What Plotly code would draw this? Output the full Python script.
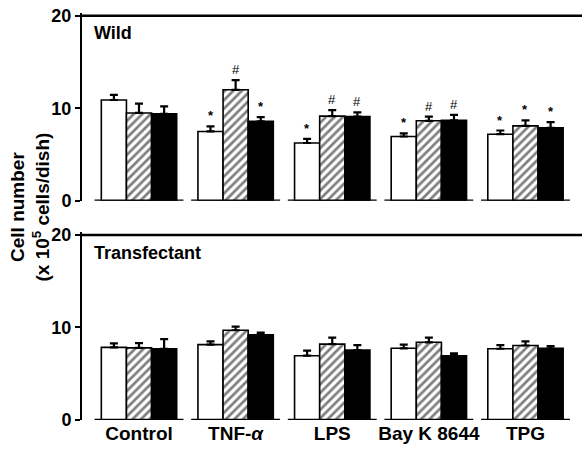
import plotly.graph_objects as go
from plotly.subplots import make_subplots

categories = ["Control", "TNF-<i>α</i>", "LPS", "Bay K 8644", "TPG"]

# Wild
wild_white = [10.9, 7.5, 6.25, 6.95, 7.2]
wild_white_err = [0.55, 0.55, 0.45, 0.35, 0.4]
wild_hatch = [9.5, 12.0, 9.15, 8.65, 8.1]
wild_hatch_err = [1.0, 1.05, 0.65, 0.45, 0.6]
wild_black = [9.4, 8.6, 9.1, 8.7, 7.9]
wild_black_err = [0.8, 0.45, 0.45, 0.6, 0.6]
wild_white_mark = ["", "*", "*", "*", "*"]
wild_hatch_mark = ["", "#", "#", "#", "*"]
wild_black_mark = ["", "*", "#", "#", "*"]

# Transfectant
tr_white = [7.85, 8.15, 6.95, 7.75, 7.7]
tr_white_err = [0.43, 0.35, 0.55, 0.4, 0.4]
tr_hatch = [7.8, 9.7, 8.2, 8.4, 8.05]
tr_hatch_err = [0.5, 0.4, 0.7, 0.5, 0.45]
tr_black = [7.7, 9.2, 7.55, 6.95, 7.75]
tr_black_err = [1.05, 0.25, 0.55, 0.25, 0.25]

y_ticks = [0, 10, 20]
panel_labels = ["Wild", "Transfectant"]

FONT = "Arial, Liberation Sans, sans-serif"

fig = make_subplots(rows=2, cols=1, shared_xaxes=False, vertical_spacing=0.077)

xs = list(range(len(categories)))


def add_bar(vals, errs, style, row):
    if style == "white":
        marker = dict(color="white", line=dict(color="black", width=1.6))
    elif style == "hatch":
        marker = dict(color="white", line=dict(color="black", width=1.6),
                      pattern=dict(shape="/", fgcolor="black", bgcolor="white",
                                   size=6, solidity=0.45))
    else:
        marker = dict(color="black", line=dict(color="black", width=1.6))
    fig.add_trace(go.Bar(
        x=xs, y=vals, marker=marker, showlegend=False,
        error_y=dict(type="data", symmetric=False, array=errs,
                     arrayminus=[0] * len(errs), color="black",
                     thickness=2.2, width=4),
    ), row=row, col=1)


add_bar(wild_white, wild_white_err, "white", 1)
add_bar(wild_hatch, wild_hatch_err, "hatch", 1)
add_bar(wild_black, wild_black_err, "black", 1)
add_bar(tr_white, tr_white_err, "white", 2)
add_bar(tr_hatch, tr_hatch_err, "hatch", 2)
add_bar(tr_black, tr_black_err, "black", 2)

fig.update_layout(barmode="group", bargap=0.22, bargroupgap=0)

bar_w = 0.78 / 3
for vals, errs, marks, k in [
    (wild_white, wild_white_err, wild_white_mark, -1),
    (wild_hatch, wild_hatch_err, wild_hatch_mark, 0),
    (wild_black, wild_black_err, wild_black_mark, 1),
]:
    for i, m in enumerate(marks):
        if m:
            fig.add_annotation(x=i + k * bar_w, y=vals[i] + errs[i], xref="x", yref="y",
                               text="<b>%s</b>" % m if m == "*" else m,
                               showarrow=False, yanchor="bottom", yshift=1,
                               font=dict(family=FONT, size=13, color="black"))

for r, (xr, yr) in enumerate([("x", "y"), ("x2", "y2")]):
    # segmented baselines
    for i in xs:
        fig.add_shape(type="line", xref=xr, yref=yr, x0=i - 0.46, x1=i + 0.46,
                      y0=0, y1=0, line=dict(color="black", width=2.5))
    # top frame line
    fig.add_shape(type="line", xref=xr + " domain", yref=yr, x0=0, x1=1,
                  y0=y_ticks[-1], y1=y_ticks[-1], line=dict(color="black", width=2.5))
    fig.add_annotation(x=0.02, xref=xr + " domain", y=1 - 0.045, yref=yr + " domain",
                       text="<b>%s</b>" % panel_labels[r], showarrow=False,
                       xanchor="left", yanchor="top",
                       font=dict(family=FONT, size=18, color="black"))

xrange = [-0.59, 4.585]
fig.update_xaxes(range=xrange, showline=False, showgrid=False, zeroline=False,
                 tickvals=xs, showticklabels=False, ticks="", row=1, col=1)
fig.update_xaxes(range=xrange, showline=False, showgrid=False, zeroline=False,
                 tickvals=xs, ticktext=["<b>%s</b>" % c for c in categories], ticks="",
                 tickfont=dict(family=FONT, size=19, color="black"), row=2, col=1)
fig.update_yaxes(range=[0, 20.3], tickvals=y_ticks,
                 ticktext=["<b>%d</b>" % v for v in y_ticks],
                 showline=True, linecolor="black", linewidth=2, ticks="outside",
                 ticklen=5, tickwidth=2, tickcolor="black", showgrid=False,
                 zeroline=False, tickfont=dict(family=FONT, size=18, color="black"))

fig.add_annotation(x=-0.104, xref="paper", y=0.522, yref="paper",
                   xanchor="center", yanchor="middle",
                   text="<b>Cell number<br>(x 10<sup>5</sup> cells/dish)</b>",
                   showarrow=False, textangle=-90,
                   font=dict(family=FONT, size=19, color="black"))

fig.update_layout(width=582, height=452, margin=dict(l=82, r=0, t=13, b=32),
                  plot_bgcolor="white", paper_bgcolor="white",
                  font=dict(family=FONT, color="black"))

fig.write_html("out.html")
